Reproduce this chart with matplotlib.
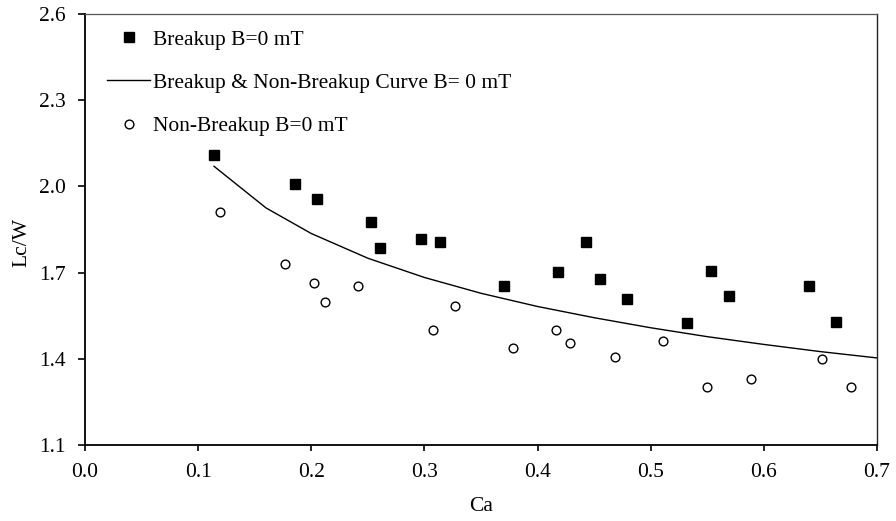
import matplotlib
matplotlib.use("Agg")
import matplotlib.pyplot as plt
from matplotlib.lines import Line2D

plt.rcParams['font.family'] = ['Liberation Serif', 'DejaVu Serif']
plt.rcParams['font.size'] = 15.5

# Breakup points (B = 0 mT)
breakup_ca = [0.114, 0.186, 0.205, 0.253, 0.261, 0.297, 0.314, 0.370, 0.418,
              0.443, 0.455, 0.479, 0.532, 0.553, 0.569, 0.640, 0.664]
breakup_lcw = [2.11, 2.01, 1.956, 1.877, 1.787, 1.818, 1.805, 1.655, 1.701,
               1.806, 1.679, 1.609, 1.524, 1.705, 1.620, 1.655, 1.528]

# Non-breakup points (B = 0 mT)
nonbreak_ca = [0.119, 0.177, 0.202, 0.212, 0.241, 0.308, 0.327, 0.378, 0.416,
               0.429, 0.468, 0.511, 0.550, 0.589, 0.651, 0.677]
nonbreak_lcw = [1.910, 1.729, 1.665, 1.597, 1.652, 1.500, 1.583, 1.439, 1.500,
                1.455, 1.406, 1.463, 1.301, 1.328, 1.400, 1.301]

# Boundary curve between breakup and non-breakup regimes
curve_ca = [0.114, 0.16, 0.20, 0.25, 0.30, 0.35, 0.40, 0.45, 0.50, 0.55,
            0.60, 0.65, 0.70]
curve_lcw = [2.07, 1.925, 1.836, 1.750, 1.683, 1.628, 1.582, 1.543, 1.508,
             1.477, 1.450, 1.425, 1.403]

x_ticks = [0.0, 0.1, 0.2, 0.3, 0.4, 0.5, 0.6, 0.7]
y_ticks = [1.1, 1.4, 1.7, 2.0, 2.3, 2.6]

fig = plt.figure(figsize=(8.96, 5.21), dpi=100)
ax = fig.add_axes([0.0949, 0.1459, 0.8839, 0.8272])

ax.plot(curve_ca, curve_lcw, color='black', lw=1.0, zorder=2)
ax.plot(breakup_ca, breakup_lcw, ls='none', marker='s', ms=7.2,
        mfc='black', mec='black', zorder=3)
ax.plot(nonbreak_ca, nonbreak_lcw, ls='none', marker='o', ms=6.3,
        mfc='white', mec='black', mew=1.0, zorder=3)

ax.set_xlim(0.0, 0.7)
ax.set_ylim(1.1, 2.6)
ax.set_xticks(x_ticks)
ax.set_yticks(y_ticks)
ax.set_xticklabels([f"{v:.1f}" for v in x_ticks])
ax.set_yticklabels([f"{v:.1f}" for v in y_ticks])

for side in ('left', 'bottom'):
    ax.spines[side].set_linewidth(1.4)
    ax.spines[side].set_color('#111111')
ax.spines['top'].set_linewidth(0.9)
ax.spines['top'].set_color('#555555')
ax.spines['right'].set_linewidth(1.0)
ax.spines['right'].set_color('#222222')

ax.tick_params(axis='y', direction='out', length=5, width=1.2, pad=9)
ax.tick_params(axis='x', direction='out', length=4, width=1.2, pad=9)

ax.set_xlabel('Ca')
ax.xaxis.set_label_coords(0.5, -0.121)
ax.set_ylabel('Lc/W')
ax.yaxis.set_label_coords(-0.068, 0.469)

handles = [
    Line2D([], [], ls='none', marker='s', ms=7.2, mfc='black', mec='black'),
    Line2D([], [], color='black', lw=1.0),
    Line2D([], [], ls='none', marker='o', ms=6.3, mfc='white', mec='black', mew=1.0),
]
labels = ['Breakup B=0 mT', 'Breakup & Non-Breakup Curve B= 0 mT',
          'Non-Breakup B=0 mT']
ax.legend(handles, labels, loc='upper left', bbox_to_anchor=(0.0278, 0.964),
          frameon=False, handlelength=2.0, handletextpad=0.14,
          labelspacing=1.08, borderpad=0.0, borderaxespad=0.0)

fig.savefig('out.png', dpi=100)
